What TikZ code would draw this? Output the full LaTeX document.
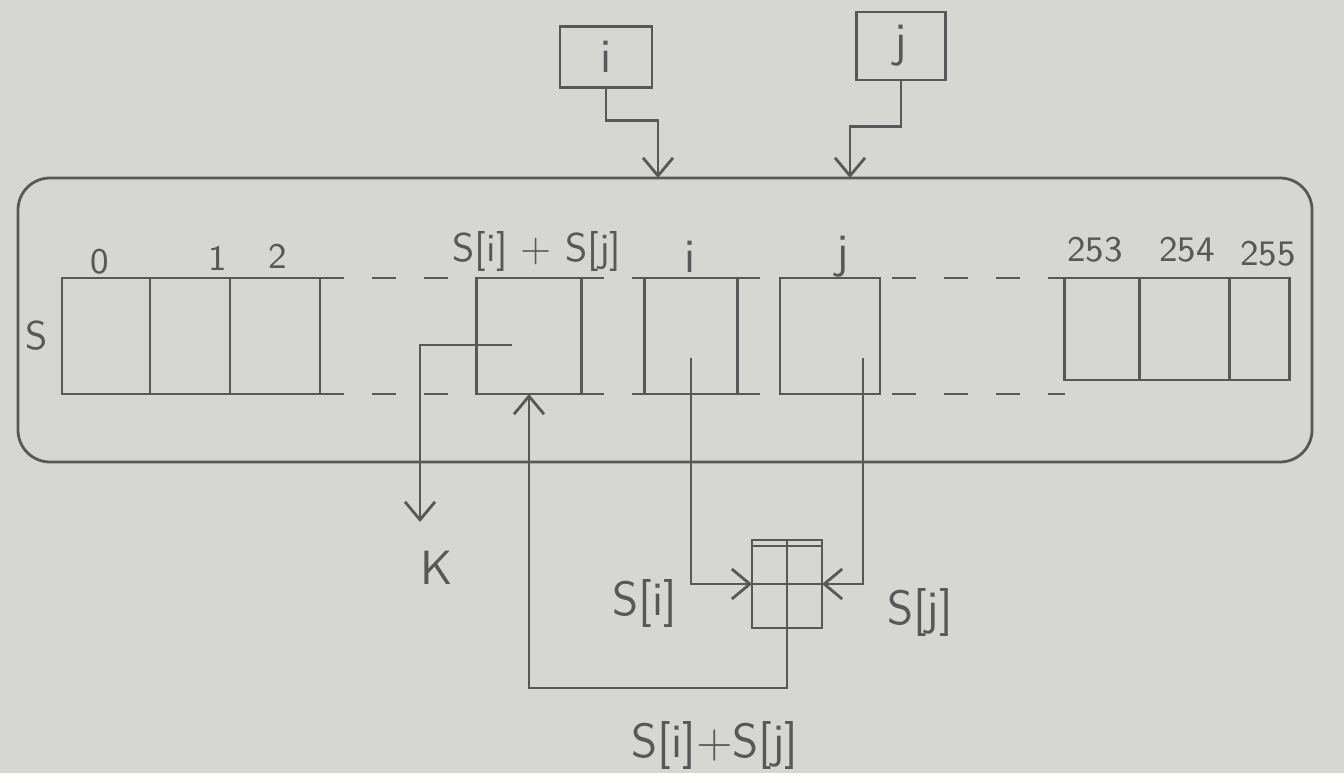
\documentclass[tikz,border=0pt]{standalone}
\usetikzlibrary{positioning,arrows.meta}
\definecolor{paper}{RGB}{214,214,210}
\definecolor{pencil}{RGB}{88,88,88}
\tikzset{
  cell/.style={draw, fill=paper, inner sep=0pt, outer sep=0pt, minimum height=29pt},
  ptrbox/.style={draw, inner sep=0pt, font=\sffamily\large},
  lbl/.style={font=\sffamily\large},
  idx/.style={font=\sffamily\small},
}
\begin{document}
\begin{tikzpicture}[x=0.25pt,y=-0.25pt,line width=0.7pt,color=pencil,
    >={Straight Barb[length=4.5pt,width=7.5pt]}]
    \fill[paper] (0,0) rectangle (1344,773);
    % state table frame
    \node[draw, rounded corners=8pt, minimum width=323.5pt, minimum height=71pt] (state) at (665,320) {};
    % pointer registers
    \node[ptrbox, minimum width=23pt, minimum height=15.25pt] (iptr) at (606,57) {i};
    \node[ptrbox, minimum width=22.25pt, minimum height=17pt] (jptr) at (901,46) {j};
    \coordinate (ihit) at (658,178);
    \coordinate (jhit) at (850,178);
    \draw[->] (iptr.south) -- ++(0,32) -| (ihit);
    \draw[->] (jptr.south) -- ++(0,45) -| (jhit);
    % cells
    \node[cell, minimum width=22pt] (S0) at (106,336) {};
    \node[cell, minimum width=20pt, right=0pt of S0] (S1) {};
    \node[cell, minimum width=22.5pt, right=0pt of S1] (S2) {};
    \node[cell, minimum width=18.75pt, minimum height=25.5pt] (S253) at (1102,329) {};
    \node[cell, minimum width=22.5pt, minimum height=25.5pt, right=0pt of S253] (S254) {};
    \node[cell, minimum width=15pt, minimum height=25.5pt, right=0pt of S254] (S255) {};
    \draw[dash pattern=on 6pt off 7pt] (S2.north east) -- (S2.north east -| S253.west);
    \draw[dash pattern=on 6pt off 7pt] (S2.south east) -- (S2.south east -| S253.west);
    \node[cell, minimum width=26.25pt] (Ssum) at (529,336) {};
    \node[cell, minimum width=23.25pt] (Si) at (691,336) {};
    \node[cell, minimum width=25pt] (Sj) at (830,336) {};
    \node[font=\sffamily, left=0pt of S0] (slab) {S};
    % indices
    \node[idx] at (100,262) {0};
    \node[idx] at (218,258) {1};
    \node[idx] at (278,256) {2};
    \node[font=\sffamily] at (537,252) {S[i] + S[j]};
    \node[lbl] at (690,257) {i};
    \node[lbl] at (843,257) {j};
    \node[idx] at (1095,250) {253};
    \node[idx] at (1187,250) {254};
    \node[idx] at (1268,254) {255};
    % swap unit
    \node[cell, minimum width=17.5pt, minimum height=22pt] (swap) at (787,584) {};
    \draw (swap.north) -- (swap.south) (swap.west) -- (swap.east);
    \draw ([yshift=-1.5pt]swap.north west) -- ([yshift=-1.5pt]swap.north east);
    \coordinate (iout) at (691,358);
    \coordinate (jout) at (863,358);
    \coordinate (kin) at (512,345);
    \coordinate (kend) at (420,522);
    \draw[->] (iout) |- (swap.west);
    \draw[->] (jout) |- (swap.east);
    \draw[->] (swap.south) -- ++(0,60) -| (Ssum.south);
    \draw[->] (kin) -| (kend);
    \node[lbl] (K) at (437,568) {K};
    \node[lbl] at (645,603) {S[i]};
    \node[lbl] at (920,612) {S[j]};
    \node[lbl] at (715,745) {S[i]+S[j]};
\end{tikzpicture}
\end{document}
